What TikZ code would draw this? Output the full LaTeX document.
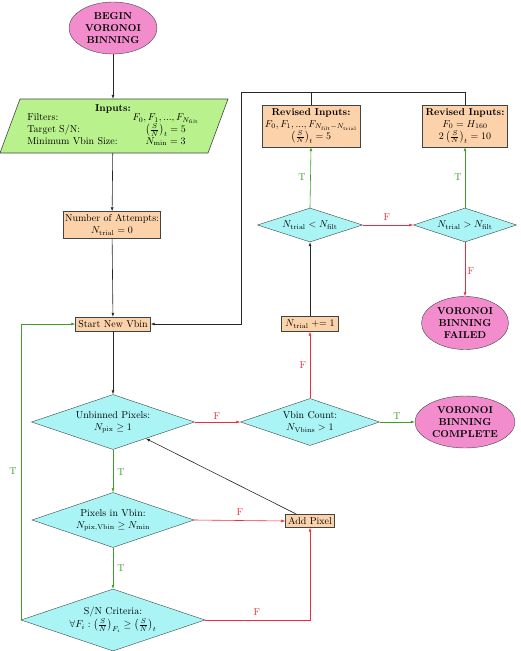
\documentclass[tikz,border=0pt]{standalone}
\usetikzlibrary{shapes.geometric, arrows.meta}
\definecolor{pinkfill}{RGB}{242,140,205}
\definecolor{greenfill}{RGB}{185,242,140}
\definecolor{orangefill}{RGB}{252,210,170}
\definecolor{cyanfill}{RGB}{170,244,246}
\definecolor{redline}{RGB}{238,45,60}
\definecolor{greenline}{RGB}{60,160,40}
\definecolor{edgecol}{RGB}{60,70,70}
\begin{document}
\begin{tikzpicture}[x=1pt,y=-1pt,
  terminal/.style={ellipse, draw=edgecol, fill=pinkfill, inner sep=0pt, align=center, font=\bfseries},
  procbox/.style={rectangle, draw=edgecol, fill=orangefill, inner sep=1pt, align=center},
  decision/.style={diamond, aspect=3, draw=edgecol, fill=cyanfill, inner sep=0pt, align=center},
  arr/.style={-{Latex[length=4pt,width=3pt]}, line width=0.6pt},
  barr/.style={arr, draw=black!85},
  tarr/.style={arr, draw=greenline},
  farr/.style={arr, draw=redline},
  tlab/.style={text=greenline, inner sep=0pt},
  flab/.style={text=redline, inner sep=0pt},
]
\useasboundingbox (0,0) rectangle (520,651);

% nodes
\node[terminal, minimum width=88pt, minimum height=52pt] (begin) at (113,28) {BEGIN\\VORONOI\\BINNING};

\fill[greenfill, draw=edgecol, line width=0.6pt] (0,153) -- (208,153) -- (228,99) -- (20,99) -- cycle;
\node[rectangle, minimum width=150pt, minimum height=54pt, inner sep=0pt, align=center] (inp) at (113,126)
  {\textbf{Inputs:}\\[-1pt]
   \renewcommand{\arraystretch}{0.92}%
   \begin{tabular}{@{}l@{\hspace{15pt}}c@{}}
   Filters: & $F_0, F_1, ..., F_{N_\mathrm{filt}}$\\
   Target S/N: & $\left(\frac{S}{N}\right)_t = 5$\\
   Minimum Vbin Size: & $N_\mathrm{min} = 3$
   \end{tabular}};

\node[procbox, minimum width=97pt, minimum height=27pt] (attempts) at (112,225) {Number of Attempts:\\$N_\mathrm{trial} = 0$};
\node[procbox, minimum width=75pt, minimum height=14pt] (start) at (113,324) {Start New Vbin};
\node[decision, minimum width=163pt, minimum height=55pt] (unb) at (113,422) {Unbinned Pixels:\\$N_\mathrm{pix} \geq 1$};
\node[decision, minimum width=162pt, minimum height=55pt] (pix) at (113,520) {Pixels in Vbin:\\$N_\mathrm{pix,Vbin} \geq N_\mathrm{min}$};
\node[decision, minimum width=184pt, minimum height=62pt] (sn) at (113,620) {S/N Criteria:\\[1pt]$\forall F_i : \left(\frac{S}{N}\right)_{F_i} \geq \left(\frac{S}{N}\right)_t$};
\node[procbox, minimum width=49pt, minimum height=13pt] (add) at (310,521) {Add Pixel};
\node[decision, minimum width=139pt, minimum height=47pt] (vbin) at (310,422) {Vbin Count:\\$N_\mathrm{Vbins} > 1$};
\node[terminal, minimum width=100pt, minimum height=52pt] (complete) at (465,422) {VORONOI\\BINNING\\COMPLETE};
\node[procbox, minimum width=57pt, minimum height=15pt] (ntr) at (310,324) {$N_\mathrm{trial} \mathrel{+}= 1$};
\node[decision, minimum width=105pt, minimum height=34pt] (lt) at (310,225) {$N_\mathrm{trial} < N_\mathrm{filt}$};
\node[decision, minimum width=103pt, minimum height=34pt] (gt) at (465,225) {$N_\mathrm{trial} > N_\mathrm{filt}$};
\node[terminal, minimum width=87pt, minimum height=53pt] (failed) at (465,323) {VORONOI\\BINNING\\FAILED};
\node[procbox, minimum width=98pt, minimum height=42pt] (revL) at (311,126)
  {\textbf{Revised Inputs:}\\$F_0, F_1, ..., F_{N_\mathrm{filt} - N_\mathrm{trial}}$\\$\left(\frac{S}{N}\right)_t = 5$};
\node[procbox, minimum width=85pt, minimum height=42pt] (revR) at (465,126)
  {\textbf{Revised Inputs:}\\$F_0 = H_{160}$\\$2\left(\frac{S}{N}\right)_t = 10$};
\coordinate (loopTop) at (241,92);

% connectors
\draw[barr] (begin) -- (inp);
\draw[barr] (inp) -- (attempts);
\draw[barr] (attempts) -- (start);
\draw[barr] (start) -- (unb);
\draw[tarr] (unb) -- (pix);
\draw[tarr] (pix) -- (sn);
\draw[tarr] (sn.west) |- (start.west);
\draw[farr] (pix.east) -- (add.west);
\draw[farr] (sn.east) -| (add.south);
\draw[barr] (add) -- (unb);
\draw[farr] (unb.east) -- (vbin.west);
\draw[tarr] (vbin.east) -- (complete.west);
\draw[farr] (vbin.north) -- (ntr.south);
\draw[barr] (ntr.north) -- (lt.south);
\draw[farr] (lt.east) -- (gt.west);
\draw[tarr] (lt.north) -- (revL.south);
\draw[tarr] (gt.north) -- (revR.south);
\draw[farr] (gt.south) -- (failed.north);
\draw[line width=0.6pt, draw=black!85] (revL.north) -- (revL.north |- loopTop);
\draw[barr] (revR.north) |- (loopTop) |- (start.east);

% labels
\node[tlab] (lab1) at (13,471) {T};
\node[tlab] (lab2) at (121,472) {T};
\node[tlab] (lab3) at (121,568) {T};
\node[flab] (lab4) at (240,512) {F};
\node[flab] (lab5) at (257,612) {F};
\node[flab] (lab6) at (217,416) {F};
\node[tlab] (lab7) at (397,416) {T};
\node[flab] (lab8) at (303,365) {F};
\node[flab] (lab9) at (387,217) {F};
\node[tlab] (lab10) at (302,177) {T};
\node[tlab] (lab11) at (458,177) {T};
\node[flab] (lab12) at (471,271) {F};
\end{tikzpicture}
\end{document}
